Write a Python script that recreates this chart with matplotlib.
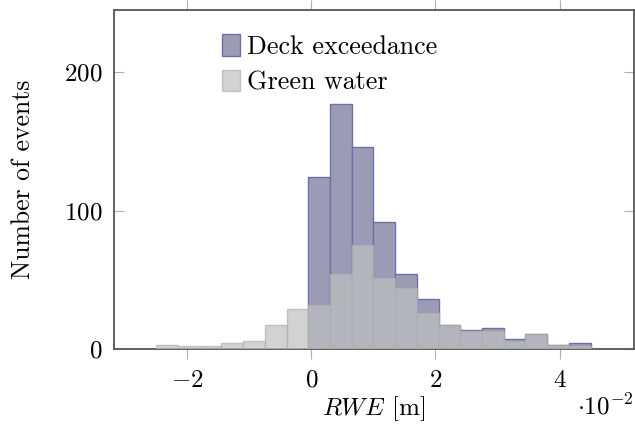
import numpy as np
import matplotlib
matplotlib.use("Agg")
import matplotlib.pyplot as plt

# histogram bins, x in units of 1e-2 m
bin_start = -2.5
bin_width = 0.35
n_bins = 20

deck = [0, 0, 0, 0, 0, 0, 0, 124, 177, 146, 92, 54, 36, 17, 14, 15, 7, 11, 3, 4]
green = [3, 2, 2, 4, 6, 17, 29, 32, 54, 75, 51, 44, 26, 17, 13, 13, 6, 11, 3, 2]

xticks = [-2, 0, 2, 4]
yticks = [0, 100, 200]

plt.rcParams['font.family'] = 'cmr10'
plt.rcParams['mathtext.fontset'] = 'cm'
plt.rcParams['axes.formatter.use_mathtext'] = True
plt.rcParams['font.size'] = 18

fig = plt.figure(figsize=(6.35, 4.28), dpi=100)
ax = fig.add_axes([114/635, 79/428, 520/635, 339/428])

lefts = bin_start + bin_width*np.arange(n_bins)

ax.bar(lefts, deck, width=bin_width, align='edge', color='#9b9bb5',
       edgecolor='#7070a8', linewidth=1.0, label='Deck exceedance', zorder=2)
ax.bar(lefts, green, width=bin_width, align='edge', color='#c0c0c0', alpha=0.7,
       edgecolor='#b0b0b0', linewidth=1.0, label='Green water', zorder=3)

ax.set_xlim(-3.18, 5.2)
ax.set_ylim(0, 245)
ax.set_xticks(xticks)
ax.set_yticks(yticks)

for s in ax.spines.values():
    s.set_color('#555555')
    s.set_linewidth(1.3)

ax.tick_params(axis='x', direction='out', top=True, length=7, width=0.8,
               color='#b0b0b0', pad=8)
ax.tick_params(axis='y', direction='in', right=True, length=7, width=0.8,
               color='#b0b0b0', pad=8)

ax.set_xlabel(r'$RWE$ [m]', labelpad=2)
ax.set_ylabel('Number of events', labelpad=21, fontsize=18.5)
ax.text(1.0, -0.17, r'$\cdot 10^{-2}$', transform=ax.transAxes,
        ha='right', va='center', fontsize=18)

ax.legend(loc='upper left', bbox_to_anchor=(0.208, 0.928), frameon=False,
          borderpad=0, borderaxespad=0, handlelength=0.7, handleheight=0.9,
          handletextpad=0.25, labelspacing=0.4, fontsize=18.7)

fig.savefig('out.png', dpi=100)
